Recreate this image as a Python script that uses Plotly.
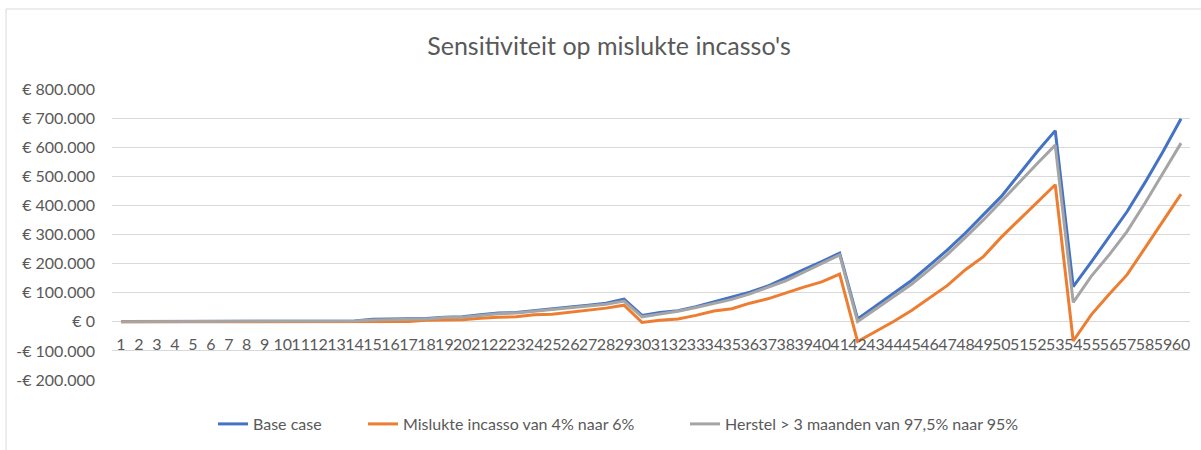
import plotly.graph_objects as go

categories = list(range(1, 61))
tick_labels = [str(c) for c in categories]

base_case = [1000, 1000, 1000, 1000, 1500, 1500, 1500, 2000, 2000, 2000, 2500, 2500, 3000, 3000,
             9000, 9000, 10000, 11000, 16000, 17000, 24000, 30000, 32000, 39000, 44000, 51000, 57000, 64000, 78000,
             22000, 32000, 38000, 52000, 69000, 84000, 102000, 123000, 150000, 179000, 207000, 236000,
             10000, 53000, 99000, 142000, 194000, 247000, 305000, 368000, 431000, 508000, 585000, 657000,
             121000, 205000, 291000, 379000, 479000, 585000, 698000]

mislukte_incasso = [0, 0, 0, 0, 0, 0, 0, 0, 0, 0, 0, 0, 0, 0,
                    -1000, 0, 1000, 5000, 6000, 7000, 12000, 16000, 17000, 24000, 26000, 33000, 39000, 47000, 57000,
                    -2000, 5000, 10000, 22000, 37000, 45000, 64000, 79000, 100000, 119000, 137000, 164000,
                    -68000, -33000, 1000, 39000, 81000, 125000, 179000, 224000, 291000, 352000, 412000, 471000,
                    -66000, 24000, 95000, 162000, 254000, 346000, 439000]

herstel = [500, 500, 500, 500, 1000, 1000, 1000, 1500, 1500, 1500, 2000, 2000, 2500, 2500,
           6000, 7000, 8000, 10000, 15000, 16000, 22000, 28000, 30000, 36000, 41000, 48000, 54000, 60000, 71000,
           17000, 27000, 36000, 49000, 64000, 77000, 96000, 118000, 141000, 171000, 200000, 230000,
           1000, 44000, 87000, 129000, 179000, 232000, 290000, 350000, 414000, 480000, 544000, 607000,
           67000, 156000, 230000, 311000, 408000, 511000, 614000]

series_names = ["Base case", "Mislukte incasso van 4% naar 6%", "Herstel > 3 maanden van 97,5% naar 95%"]
series_colors = ["#4472C4", "#ED7D31", "#A5A5A5"]
legend_ids = ["legend", "legend2", "legend3"]
legend_starts = [212, 362, 684]

y_ticks = [-200000, -100000, 0, 100000, 200000, 300000, 400000, 500000, 600000, 700000, 800000]
y_tick_labels = ["-€ 200.000", "-€ 100.000", "€ 0", "€ 100.000", "€ 200.000", "€ 300.000",
                 "€ 400.000", "€ 500.000", "€ 600.000", "€ 700.000", "€ 800.000"]

FONT = "Lato, Calibri, sans-serif"
TXT = "#595959"
W, H = 1201, 450

fig = go.Figure()
for name, vals, col, lg in zip(series_names, [base_case, mislukte_incasso, herstel], series_colors, legend_ids):
    fig.add_trace(go.Scatter(x=categories, y=vals, mode="lines", name=name, legend=lg,
                             line=dict(color=col, width=3)))

legend_common = dict(orientation="h", xref="container", xanchor="left",
                     y=1 - 424 / H, yref="container", yanchor="middle",
                     font=dict(family=FONT, size=16, color=TXT), bgcolor="rgba(0,0,0,0)")
legends = {}
for lg, xs in zip(legend_ids, legend_starts):
    legends[lg] = dict(legend_common, x=(xs + 1) / W)

fig.update_layout(
    width=W, height=H,
    margin=dict(l=112, r=11, t=89, b=70, autoexpand=False),
    paper_bgcolor="white", plot_bgcolor="white",
    font=dict(family=FONT, color=TXT, size=16),
    title=dict(text="Sensitiviteit op mislukte incasso's", x=609 / W, xref="container", xanchor="center",
               y=1 - 46 / H, yref="container", yanchor="middle",
               font=dict(family=FONT, size=25, color=TXT)),
    showlegend=True,
    xaxis=dict(range=[0.5, 60.5], tickmode="array", tickvals=categories, ticktext=tick_labels,
               tickangle=0, showgrid=False, zeroline=False, showline=False, ticks="",
               anchor="free", position=0.2, automargin=False, ticklabelstandoff=11,
               tickfont=dict(family=FONT, size=16, color=TXT)),
    yaxis=dict(range=[-200000, 800000], tickmode="array", tickvals=y_ticks, ticktext=y_tick_labels,
               showgrid=True, gridcolor="#D9D9D9", gridwidth=1, zeroline=False, showline=False,
               automargin=False, ticks="", ticklabelstandoff=16,
               tickfont=dict(family=FONT, size=16, color=TXT)),
    **legends,
)

fig.add_shape(type="rect", xref="paper", yref="paper",
              x0=(6 - 112) / 1078, x1=1.2, y0=-0.5, y1=(380 - 9) / 291,
              line=dict(color="#D9D9D9", width=1), fillcolor="rgba(0,0,0,0)", layer="below")

fig.write_html("out.html", config={"displayModeBar": False},
               post_script="document.body.style.margin='0';")
